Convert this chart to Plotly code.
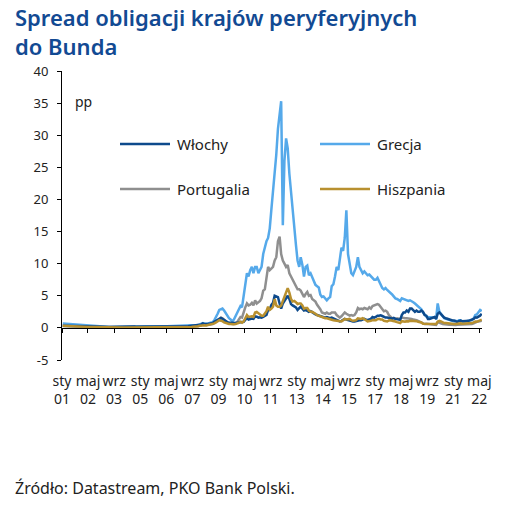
import pandas as pd
import plotly.graph_objects as go

# Monthly spreads vs Bund (pp), Jan 2001 - Jun 2022
grecja = [
    0.70,0.68,0.65,0.62,0.60,0.55,0.52,0.50,0.55,0.50,0.45,0.42,
    0.40,0.38,0.35,0.32,0.30,0.32,0.30,0.28,0.30,0.28,0.25,0.24,
    0.22,0.20,0.18,0.17,0.16,0.15,0.15,0.16,0.18,0.17,0.18,0.20,
    0.20,0.22,0.24,0.25,0.26,0.25,0.28,0.26,0.27,0.25,0.26,0.28,
    0.30,0.28,0.26,0.25,0.26,0.28,0.30,0.29,0.28,0.27,0.28,0.30,
    0.30,0.29,0.28,0.27,0.26,0.27,0.28,0.27,0.26,0.25,0.26,0.27,
    0.28,0.28,0.29,0.30,0.28,0.30,0.32,0.35,0.38,0.40,0.42,0.45,
    0.55,0.60,0.75,0.65,0.62,0.70,0.75,0.80,0.90,1.20,1.60,2.20,
    2.80,2.90,3.00,2.70,2.30,1.80,1.50,1.30,1.05,1.30,1.80,2.40,
    3.00,3.40,3.20,5.00,7.50,8.50,8.00,9.00,9.50,8.50,9.50,9.50,
    8.50,9.00,9.50,11.5,12.5,13.5,14.0,15.5,18.5,21.0,24.0,27.0,
    31.0,33.0,35.3,16.0,26.0,29.5,28.0,24.0,21.0,18.5,15.0,13.0,
    10.5,9.50,11.0,9.80,8.00,9.50,9.70,8.20,8.50,7.80,7.20,6.70,
    6.50,6.30,5.20,4.80,4.90,4.50,4.30,4.60,4.80,6.50,6.80,8.00,
    9.50,9.00,11.0,12.5,12.0,14.0,18.3,11.5,10.0,8.50,8.20,8.80,
    9.50,11.0,9.50,9.00,8.50,8.80,8.50,8.20,8.30,8.00,7.80,7.50,
    7.50,7.80,7.30,6.80,6.20,6.00,6.20,5.90,5.70,5.50,5.20,4.90,
    4.60,4.50,4.30,4.20,4.60,4.50,4.30,4.30,4.20,4.30,4.20,4.00,
    3.80,3.60,3.30,3.10,2.90,2.40,2.00,1.80,1.70,1.70,1.70,1.60,
    1.60,1.50,3.80,2.50,2.10,1.70,1.50,1.40,1.30,1.20,1.20,1.10,
    1.00,1.10,1.00,1.20,1.20,1.00,0.90,1.00,1.05,1.10,1.15,1.20,
    1.50,2.00,2.10,2.50,2.80,2.60,
]

portugalia = [
    0.30,0.28,0.26,0.25,0.25,0.24,0.22,0.22,0.24,0.23,0.22,0.20,
    0.18,0.17,0.16,0.15,0.15,0.16,0.15,0.14,0.15,0.14,0.13,0.13,
    0.12,0.11,0.10,0.10,0.10,0.10,0.10,0.11,0.12,0.11,0.11,0.12,
    0.12,0.13,0.14,0.14,0.15,0.14,0.15,0.14,0.15,0.14,0.14,0.15,
    0.15,0.14,0.13,0.13,0.14,0.15,0.15,0.15,0.14,0.14,0.15,0.15,
    0.15,0.15,0.14,0.14,0.13,0.14,0.14,0.13,0.13,0.13,0.13,0.13,
    0.13,0.13,0.14,0.14,0.14,0.15,0.18,0.20,0.22,0.22,0.24,0.26,
    0.30,0.40,0.60,0.50,0.45,0.50,0.55,0.55,0.60,0.80,1.00,1.30,
    1.50,1.60,1.50,1.20,1.00,0.80,0.70,0.60,0.60,0.60,0.80,0.90,
    1.30,1.70,1.60,2.50,3.20,3.80,3.50,3.60,3.90,3.50,4.30,3.80,
    4.00,4.20,4.60,5.80,6.00,7.50,9.50,9.00,9.20,9.50,10.5,11.0,
    13.5,14.2,11.5,10.5,10.0,9.50,9.80,8.50,8.00,7.50,7.00,6.50,
    6.00,6.00,5.80,5.30,4.80,5.30,5.60,5.00,5.10,4.50,4.30,4.10,
    3.60,3.30,2.90,2.40,2.30,2.20,2.40,2.20,2.20,2.40,2.40,2.40,
    2.00,1.80,1.60,1.80,2.20,2.40,2.20,2.10,1.90,2.00,1.90,2.00,
    2.40,3.10,2.90,3.00,2.90,3.10,3.00,2.90,3.20,3.00,3.40,3.50,
    3.60,3.70,3.60,3.30,2.90,2.60,2.70,2.50,2.00,1.80,1.50,1.50,
    1.40,1.50,1.40,1.40,1.60,1.50,1.50,1.50,1.50,1.50,1.40,1.30,
    1.30,1.20,1.10,0.95,0.90,0.70,0.60,0.65,0.60,0.55,0.50,0.55,
    0.50,0.45,0.90,0.75,0.70,0.60,0.55,0.55,0.50,0.50,0.50,0.45,
    0.40,0.45,0.50,0.50,0.55,0.55,0.50,0.50,0.50,0.55,0.55,0.60,
    0.70,0.90,0.95,1.00,1.10,1.10,
]

wlochy = [
    0.35,0.33,0.32,0.30,0.30,0.28,0.28,0.27,0.30,0.30,0.28,0.27,
    0.25,0.24,0.22,0.20,0.20,0.22,0.22,0.20,0.20,0.18,0.18,0.17,
    0.17,0.16,0.15,0.15,0.15,0.15,0.16,0.16,0.17,0.16,0.16,0.17,
    0.17,0.18,0.18,0.19,0.20,0.19,0.20,0.19,0.20,0.19,0.19,0.20,
    0.20,0.19,0.18,0.18,0.19,0.20,0.20,0.20,0.19,0.19,0.20,0.21,
    0.22,0.22,0.21,0.21,0.20,0.21,0.21,0.20,0.20,0.20,0.21,0.22,
    0.25,0.25,0.25,0.25,0.25,0.25,0.30,0.32,0.35,0.35,0.38,0.40,
    0.50,0.55,0.70,0.60,0.55,0.60,0.65,0.65,0.75,0.95,1.10,1.30,
    1.50,1.55,1.40,1.20,1.00,0.90,0.85,0.80,0.75,0.75,0.75,0.80,
    0.85,0.90,0.85,0.95,1.25,1.55,1.30,1.40,1.45,1.40,1.80,1.75,
    1.60,1.65,1.60,1.70,1.80,2.00,2.80,2.90,3.60,3.90,5.00,4.90,
    4.80,3.80,3.00,3.80,4.20,4.50,5.00,4.50,3.70,3.50,3.40,3.20,
    2.80,3.00,3.30,3.00,2.70,2.80,2.70,2.50,2.60,2.40,2.30,2.10,
    2.00,1.90,1.80,1.70,1.60,1.60,1.70,1.60,1.50,1.60,1.50,1.35,
    1.30,1.20,1.00,1.10,1.25,1.40,1.30,1.20,1.10,1.00,1.00,1.00,
    1.10,1.20,1.20,1.20,1.30,1.40,1.30,1.20,1.30,1.40,1.70,1.60,
    1.70,1.90,1.90,1.95,1.85,1.70,1.60,1.60,1.60,1.50,1.45,1.55,
    1.40,1.35,1.30,1.25,2.00,2.40,2.40,2.70,2.50,3.00,3.00,2.70,
    2.50,2.70,2.50,2.50,2.70,2.50,2.00,1.90,1.40,1.40,1.50,1.60,
    1.70,1.40,2.20,2.40,2.10,1.80,1.60,1.50,1.40,1.30,1.20,1.15,
    1.15,1.00,0.95,1.05,1.15,1.05,1.05,1.00,1.05,1.10,1.20,1.30,
    1.40,1.65,1.60,1.75,1.90,2.20,
]

hiszpania = [
    0.35,0.33,0.32,0.30,0.28,0.27,0.27,0.27,0.28,0.27,0.25,0.24,
    0.22,0.20,0.18,0.16,0.15,0.15,0.14,0.13,0.13,0.12,0.12,0.11,
    0.10,0.09,0.08,0.08,0.08,0.07,0.07,0.08,0.08,0.07,0.07,0.07,
    0.07,0.07,0.08,0.08,0.08,0.07,0.07,0.07,0.06,0.06,0.06,0.06,
    0.06,0.06,0.05,0.05,0.05,0.05,0.05,0.05,0.05,0.05,0.05,0.05,
    0.05,0.05,0.05,0.05,0.05,0.05,0.05,0.05,0.05,0.05,0.05,0.05,
    0.06,0.05,0.05,0.05,0.06,0.06,0.10,0.15,0.18,0.18,0.20,0.25,
    0.35,0.40,0.45,0.40,0.38,0.45,0.50,0.50,0.55,0.70,0.85,1.00,
    1.20,1.10,1.05,0.85,0.75,0.65,0.60,0.60,0.55,0.55,0.60,0.65,
    0.80,0.95,0.80,1.00,1.50,2.00,1.70,1.80,1.80,1.70,2.40,2.50,
    2.30,2.20,1.90,1.90,2.20,2.60,3.30,2.80,3.00,3.30,4.50,3.50,
    3.30,3.30,3.50,4.20,4.80,5.30,6.20,5.50,4.50,4.10,4.20,4.00,
    3.70,3.80,3.80,3.50,3.00,3.10,3.10,2.70,2.50,2.50,2.40,2.20,
    2.00,1.90,1.70,1.60,1.50,1.50,1.50,1.40,1.30,1.30,1.20,1.15,
    1.10,1.00,0.95,1.00,1.20,1.40,1.30,1.30,1.40,1.20,1.10,1.15,
    1.20,1.50,1.40,1.40,1.50,1.40,1.20,1.00,1.00,1.10,1.20,1.15,
    1.20,1.35,1.40,1.30,1.30,1.10,1.10,1.00,1.15,1.20,1.10,1.10,
    1.00,0.90,0.80,0.75,1.05,1.00,0.95,1.05,1.00,1.10,1.10,1.15,
    1.10,1.05,0.95,0.95,0.85,0.65,0.65,0.70,0.65,0.70,0.70,0.65,
    0.65,0.60,0.95,1.10,1.00,0.85,0.75,0.75,0.70,0.65,0.60,0.60,
    0.60,0.60,0.65,0.70,0.70,0.65,0.65,0.65,0.70,0.70,0.70,0.75,
    0.85,1.00,0.95,1.05,1.15,1.30,
]

tick_dates = ["2001-01-01","2002-05-01","2003-09-01","2005-01-01","2006-05-01",
              "2007-09-01","2009-01-01","2010-05-01","2011-09-01","2013-01-01",
              "2014-05-01","2015-09-01","2017-01-01","2018-05-01","2019-09-01",
              "2021-01-01","2022-05-01"]
tick_labels = ["sty<br>01","maj<br>02","wrz<br>03","sty<br>05","maj<br>06",
               "wrz<br>07","sty<br>09","maj<br>10","wrz<br>11","sty<br>13",
               "maj<br>14","wrz<br>15","sty<br>17","maj<br>18","wrz<br>19",
               "sty<br>21","maj<br>22"]
y_ticks = [-5, 0, 5, 10, 15, 20, 25, 30, 35, 40]
y_tick_labels = ["-5", "0", "5", "10", "15", "20", "25", "30", "35", "40"]

dates = pd.date_range("2001-01-01", periods=len(grecja), freq="MS") + pd.Timedelta(days=14)

colors = {"Włochy": "#0d4a8c", "Grecja": "#55a9ea",
          "Portugalia": "#8f8f8f", "Hiszpania": "#b8902f"}

FONT = "Noto Sans"
TXT = "#222222"

fig = go.Figure()
for name, vals in [("Grecja", grecja), ("Portugalia", portugalia),
                   ("Włochy", wlochy), ("Hiszpania", hiszpania)]:
    fig.add_trace(go.Scatter(x=dates, y=vals, mode="lines", name=name,
                             line=dict(color=colors[name], width=2.5),
                             showlegend=False))

FW, FH = 524, 508
# plot area in page pixels: x 62..482, y 71..360
L, R, T, B = 62, 482, 71, 360
W, H = R - L, B - T
def px(x): return (x - L) / W
def py(y): return (B - y) / H

legend_items = [("Włochy", 120, 144), ("Grecja", 320, 144),
                ("Portugalia", 120, 189), ("Hiszpania", 320, 189)]
shapes, annots = [], []
for name, x0, y0 in legend_items:
    shapes.append(dict(type="line", xref="paper", yref="paper",
                       x0=px(x0), x1=px(x0 + 50), y0=py(y0), y1=py(y0),
                       line=dict(color=colors[name], width=2.5)))
    annots.append(dict(text=name, xref="paper", yref="paper", x=px(x0 + 55),
                       y=py(y0), xanchor="left", yanchor="middle", showarrow=False,
                       font=dict(family=FONT, size=15, color=TXT)))

annots.append(dict(text="pp", xref="paper", yref="paper", x=px(83), y=py(101),
                   xanchor="center", yanchor="middle", showarrow=False,
                   font=dict(family=FONT, size=14, color=TXT)))
annots.append(dict(text="Źródło: Datastream, PKO Bank Polski.", xref="paper",
                   yref="paper", x=px(13), y=py(488), xanchor="left",
                   yanchor="middle", showarrow=False,
                   font=dict(family=FONT, size=16, color=TXT)))
TITLE_C = "#124a93"
annots.append(dict(text="Spread obligacji krajów peryferyjnych<br>do Bunda",
                   xref="paper", yref="paper", x=px(13), y=py(0),
                   xanchor="left", yanchor="top", align="left", showarrow=False,
                   font=dict(family=FONT, size=22, color=TITLE_C, weight=600)))

fig.update_layout(
    width=FW, height=FH,
    margin=dict(l=L, r=FW - R, t=T, b=FH - B),
    paper_bgcolor="white", plot_bgcolor="white",
    shapes=shapes, annotations=annots,
    xaxis=dict(type="date", range=["2001-01-01", "2022-06-20"],
               anchor="free", position=5 / 45, side="bottom",
               showline=True, linecolor="black", linewidth=1,
               ticks="outside", ticklen=4, tickcolor="black",
               tickvals=tick_dates, ticktext=tick_labels, tickangle=0,
               ticklabelstandoff=36,
               tickfont=dict(family=FONT, size=14, color=TXT),
               showgrid=False, zeroline=False),
    yaxis=dict(range=[-5, 40], tickvals=y_ticks, ticktext=y_tick_labels,
               showline=True, linecolor="black", linewidth=1,
               ticks="outside", ticklen=4, tickcolor="black",
               ticklabelstandoff=6,
               tickfont=dict(family=FONT, size=13, color=TXT),
               showgrid=False, zeroline=False),
)

fig.write_html("out.html", config={"displayModeBar": False},
               post_script="document.body.style.margin='0';")
